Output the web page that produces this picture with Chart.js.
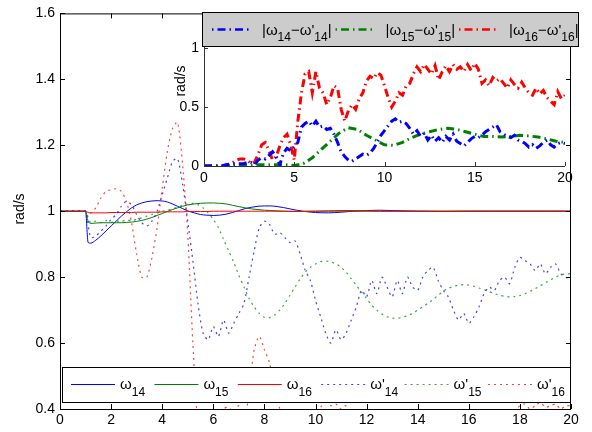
<!DOCTYPE html>
<html>
<head>
<meta charset="utf-8">
<script src="https://cdn.jsdelivr.net/npm/chart.js@4.4.1/dist/chart.umd.min.js"></script>
<style>
    body { margin: 0; background: #fff; }
    #wrap { position: relative; width: 592px; height: 432px; background: #fff; }
    #main { position: absolute; left: 0; top: 0; }
    #inset { position: absolute; left: 160px; top: 0; }
</style>
</head>
<body>
<div id="wrap">
    <canvas id="main" width="592" height="432"></canvas>
    <canvas id="inset" width="425" height="195"></canvas>
</div>
<script>
// --- data ---
const tSolid = [0,1,1.1,1.2,1.4,1.6,1.8,2,2.2,2.4,2.6,2.8,3,3.2,3.4,3.6,3.8,4,4.2,4.4,4.6,4.8,5,
    5.25,5.5,5.75,6,6.25,6.5,6.75,7,7.25,7.5,7.75,8,8.25,8.5,8.75,9,9.5,10,10.5,11,11.5,12,12.5,13,
    14,15,16,17,18,19,20];

const w14 = [1,1,0.905,0.903,0.912,0.925,0.94,0.955,0.97,0.985,0.998,1.01,1.019,1.025,1.029,1.031,1.032,
    1.031,1.028,1.022,1.015,1.008,1.001,
    0.995,0.99,0.988,0.987,0.988,0.991,0.996,1.002,1.008,1.012,1.015,1.016,1.016,1.014,1.011,1.007,
    1.0,0.996,0.995,0.997,1.0,1.002,1.003,1.002,
    1.0,0.999,1.0,1.0,1.0,1.0,1.0];
const w15 = [1,1,0.97,0.963,0.964,0.965,0.965,0.965,0.965,0.965,0.966,0.967,0.969,0.972,0.976,0.981,0.987,
    0.993,0.999,1.005,1.01,1.015,1.019,
    1.022,1.024,1.025,1.025,1.024,1.022,1.018,1.014,1.01,1.007,1.005,1.003,1.002,1.001,1.0,0.999,
    0.999,1.0,1.001,1.002,1.002,1.001,1.0,1.0,
    1.0,1.0,1.0,1.0,1.0,1.0,1.0];
const w16 = [1,1,0.996,0.995,0.995,0.995,0.995,0.996,0.996,0.996,0.996,0.996,0.997,0.997,0.997,0.997,0.997,
    0.998,0.998,0.998,0.998,0.998,0.999,
    0.999,0.999,0.999,1,1,1,1,1,1,1,1,1,1,1,1,1,
    1,1,1,1,1,1,1,1,
    1,1,1,1,1,1,1];

const tDot = [0,0.2,0.4,0.6,0.8,1,1.2,1.4,1.6,1.8,2,2.2,2.4,2.6,2.8,3,3.2,3.4,3.6,3.8,
    4,4.2,4.4,4.6,4.8,5,5.2,5.4,5.6,5.8,6,6.2,6.4,6.6,6.8,7,7.2,7.4,7.6,7.8,
    8,8.2,8.4,8.6,8.8,9,9.2,9.4,9.6,9.8,10,10.2,10.4,10.6,10.8,11,11.2,11.4,11.6,11.8,
    12,12.2,12.4,12.6,12.8,13,13.2,13.4,13.6,13.8,14,14.2,14.4,14.6,14.8,15,15.2,15.4,15.6,15.8,
    16,16.2,16.4,16.6,16.8,17,17.2,17.4,17.6,17.8,18,18.2,18.4,18.6,18.8,19,19.2,19.4,19.6,19.8,20];

// ω' (dotted)
const w14p = [1,1,1,1,1,1,0.92,0.925,0.94,0.955,
    0.975,0.99,1.015,1.03,1.02,0.99,0.965,0.955,0.97,1.0,
    1.05,1.10,1.15,1.16,1.08,0.97,0.85,0.72,0.63,0.61,
    0.65,0.62,0.67,0.63,0.66,0.69,0.72,0.80,0.88,0.95,
    0.97,0.96,0.93,0.935,0.92,0.905,0.91,0.87,0.82,0.79,
    0.73,0.68,0.63,0.60,0.64,0.61,0.63,0.67,0.71,0.76,
    0.74,0.79,0.75,0.80,0.77,0.74,0.79,0.75,0.80,0.77,
    0.76,0.80,0.82,0.83,0.79,0.76,0.74,0.70,0.67,0.69,
    0.66,0.68,0.71,0.75,0.77,0.76,0.79,0.80,0.78,0.83,
    0.86,0.85,0.84,0.82,0.84,0.81,0.83,0.84,0.81,0.80,
    0.79];
const w15p = [1,1,1,1,1,1,0.965,0.97,0.965,0.972,
    0.966,0.97,0.968,0.974,0.97,0.976,0.98,0.985,0.99,0.995,
    1.0,1.003,1.008,1.012,1.018,1.022,1.024,1.02,1.01,0.995,
    0.975,0.95,0.915,0.88,0.845,0.805,0.77,0.735,0.71,0.69,
    0.678,0.677,0.685,0.70,0.72,0.745,0.77,0.795,0.815,0.83,
    0.84,0.847,0.849,0.846,0.84,0.83,0.815,0.795,0.775,0.755,
    0.735,0.715,0.70,0.688,0.68,0.676,0.675,0.678,0.683,0.69,
    0.70,0.71,0.72,0.732,0.745,0.757,0.766,0.772,0.776,0.777,
    0.776,0.772,0.767,0.762,0.756,0.75,0.745,0.742,0.74,0.741,
    0.744,0.75,0.757,0.765,0.774,0.783,0.792,0.80,0.807,0.81,
    0.81];
const w16p = [1,1,1,1,1,1,0.995,1.01,1.04,1.06,
    1.065,1.068,1.06,1.03,0.965,0.87,0.80,0.80,0.86,0.95,
    1.07,1.18,1.25,1.27,1.14,0.93,0.60,0.35,0.28,0.26,
    0.30,0.36,0.40,0.405,0.39,0.41,0.36,0.45,0.58,0.62,
    0.58,0.54,0.46,0.40,0.33,0.26,0.22,0.20,0.22,0.28,
    0.35,0.405,0.42,0.41,0.415,0.40,0.41,0.36,0.28,0.22,
    0.18,0.15,0.17,0.14,0.16,0.13,0.15,0.14,0.16,0.15,
    0.14,0.16,0.13,0.15,0.14,0.12,0.15,0.22,0.26,0.24,
    0.25,0.27,0.24,0.26,0.29,0.30,0.27,0.32,0.36,0.39,
    0.41,0.415,0.40,0.41,0.42,0.405,0.41,0.415,0.40,0.41,
    0.41];

// inset: |ω - ω'|
const d14 = [0,0,0,0,0,0,0.01,0.015,0.02,0.02,
    0.02,0.02,0.03,0.03,0.01,0.05,0.07,0.06,0.09,0.12,
    0.08,0.01,0.11,0.15,0.13,0.16,0.20,0.33,0.36,0.38,
    0.34,0.38,0.33,0.34,0.31,0.32,0.27,0.20,0.12,0.08,
    0.05,0.04,0.06,0.08,0.10,0.09,0.11,0.15,0.20,0.26,
    0.30,0.34,0.38,0.40,0.37,0.38,0.36,0.32,0.27,0.30,
    0.25,0.28,0.22,0.26,0.21,0.24,0.20,0.25,0.22,0.27,
    0.21,0.19,0.17,0.20,0.23,0.25,0.24,0.26,0.29,0.31,
    0.33,0.35,0.29,0.27,0.25,0.24,0.26,0.22,0.21,0.19,
    0.16,0.18,0.15,0.17,0.20,0.22,0.18,0.16,0.19,0.20,
    0.19];
const d16 = [0,0,0,0,0,0,0.005,0.01,0.03,0.05,
    0.06,0.06,0.05,0.02,0.03,0.10,0.18,0.20,0.13,0.05,
    0.08,0.17,0.24,0.27,0.18,0.05,0.38,0.62,0.78,0.80,
    0.62,0.80,0.66,0.62,0.52,0.58,0.68,0.66,0.48,0.38,
    0.47,0.52,0.48,0.57,0.62,0.72,0.76,0.74,0.79,0.77,
    0.68,0.58,0.50,0.55,0.62,0.60,0.68,0.70,0.78,0.84,
    0.80,0.86,0.82,0.78,0.85,0.73,0.80,0.85,0.80,0.86,
    0.82,0.84,0.80,0.86,0.81,0.87,0.82,0.70,0.73,0.68,
    0.75,0.72,0.74,0.70,0.66,0.73,0.69,0.66,0.71,0.66,
    0.62,0.60,0.66,0.61,0.64,0.58,0.55,0.52,0.63,0.57,
    0.60];
const tHalf = [0,0.5,1,1.5,2,2.5,3,3.5,4,4.5,5,5.5,6,6.5,7,7.5,8,8.5,9,9.5,
    10,10.5,11,11.5,12,12.5,13,13.5,14,14.5,15,15.5,16,16.5,17,17.5,18,18.5,19,19.5,20];
const d15 = [0,0,0,0.005,0.005,0.005,0.01,0.01,0.01,0.01,
    0.005,0.02,0.07,0.14,0.21,0.28,0.325,0.31,0.26,0.22,
    0.18,0.175,0.2,0.24,0.27,0.29,0.31,0.32,0.31,0.29,
    0.27,0.25,0.25,0.245,0.25,0.26,0.255,0.245,0.23,0.21,
    0.2];

// tick labels
const xTicksMain = [0,2,4,6,8,10,12,14,16,18,20];
const yTicksMain = [0.4,0.6,0.8,1.0,1.2,1.4,1.6];
const xTicksInset = [0,5,10,15,20];
const yTicksInset = [0,0.5,1];

// --- helpers ---
const FONT = '"Liberation Sans", Arial, Helvetica, sans-serif';
Chart.defaults.font.family = FONT;
Chart.defaults.font.size = 14;
Chart.defaults.color = '#000';

const BLUE = '#0000ff', GREEN = '#008000', RED = '#ff0000';
const DOT = [2, 4];
const DASHDOT = [8, 4, 1.5, 4];

function pts(xs, ys) {
    return xs.map((x, i) => ({ x: x, y: ys[i] }));
}

// text with subscripts, MATLAB tex-style: parts = [[text, isSub], ...]
function drawTex(ctx, parts, x, y, big, small, drop) {
    ctx.textAlign = 'left';
    ctx.textBaseline = 'alphabetic';
    parts.forEach(p => {
        ctx.font = (p[1] ? small : big) + 'px ' + FONT;
        ctx.fillText(p[0], x, p[1] ? y + drop : y);
        x += ctx.measureText(p[0]).width;
    });
}

function sampleLine(ctx, x0, x1, y, color, width, dash, offset) {
    ctx.save();
    ctx.strokeStyle = color;
    ctx.lineWidth = width;
    ctx.setLineDash(dash);
    ctx.lineDashOffset = offset || 0;
    ctx.beginPath();
    ctx.moveTo(x0, y);
    ctx.lineTo(x1, y);
    ctx.stroke();
    ctx.restore();
}

function vTitle(ctx, text, cx, cy) {
    ctx.save();
    ctx.translate(cx, cy);
    ctx.rotate(-Math.PI / 2);
    ctx.font = '14px ' + FONT;
    ctx.fillStyle = '#000';
    ctx.textAlign = 'center';
    ctx.textBaseline = 'middle';
    ctx.fillText(text, 0, 0);
    ctx.restore();
}

const solid = (data, color, order) => ({
    data: pts(tSolid, data), borderColor: color, borderWidth: 1, pointRadius: 0,
    cubicInterpolationMode: 'monotone', order: order
});
const dotted = (data, color, order) => ({
    data: pts(tDot, data), borderColor: color, borderWidth: 1.2, borderDash: DOT,
    pointRadius: 0, tension: 0.25, order: order
});

// --- main chart frame, inward ticks, legend ---
const mainLegend = [
    { parts: [['ω', 0], ['14', 1]], color: BLUE, dash: [] },
    { parts: [['ω', 0], ['15', 1]], color: GREEN, dash: [] },
    { parts: [['ω', 0], ['16', 1]], color: RED, dash: [] },
    { parts: [["ω'", 0], ['14', 1]], color: 'rgba(0,0,255,0.75)', dash: DOT },
    { parts: [["ω'", 0], ['15', 1]], color: 'rgba(0,128,0,0.75)', dash: DOT },
    { parts: [["ω'", 0], ['16', 1]], color: 'rgba(255,0,0,0.75)', dash: DOT }
];

const mainFrame = {
    id: 'mainFrame',
    afterDraw(chart) {
        const { ctx, chartArea: a, scales: { x, y } } = chart;
        ctx.save();
        ctx.strokeStyle = '#000';
        ctx.lineWidth = 1;
        ctx.beginPath();
        xTicksMain.forEach(v => {
            const px = Math.round(x.getPixelForValue(v)) + 0.5;
            ctx.moveTo(px, a.bottom); ctx.lineTo(px, a.bottom - 5);
            ctx.moveTo(px, a.top); ctx.lineTo(px, a.top + 5);
        });
        yTicksMain.forEach(v => {
            const py = Math.round(y.getPixelForValue(v)) + 0.5;
            ctx.moveTo(a.left, py); ctx.lineTo(a.left + 5, py);
            ctx.moveTo(a.right, py); ctx.lineTo(a.right - 5, py);
        });
        ctx.stroke();
        ctx.strokeRect(a.left + 0.5, a.top + 0.5, a.right - a.left - 1, a.bottom - a.top);

        // legend box at the bottom of the axes
        ctx.fillStyle = '#fff';
        ctx.fillRect(62.5, 367.5, 508, 35);
        ctx.strokeRect(62.5, 367.5, 508, 35);
        mainLegend.forEach((item, i) => {
            const x0 = 71 + i * 83.4;
            sampleLine(ctx, x0, x0 + 44, 384.5, item.color, item.dash.length ? 1.2 : 1, item.dash);
            ctx.fillStyle = '#000';
            drawTex(ctx, item.parts, x0 + 49, 389, 15, 12, 7);
        });

        vTitle(ctx, 'rad/s', 20, 209);
        ctx.restore();
    }
};

new Chart(document.getElementById('main'), {
    type: 'line',
    data: {
        datasets: [
            solid(w14, BLUE, 6),
            solid(w15, GREEN, 5),
            solid(w16, RED, 4),
            dotted(w14p, 'rgba(0,0,255,0.75)', 3),
            dotted(w15p, 'rgba(0,128,0,0.75)', 2),
            dotted(w16p, 'rgba(255,0,0,0.75)', 1)
        ]
    },
    options: {
        responsive: false,
        animation: false,
        layout: { padding: { left: 0, top: 10, right: 21, bottom: 0 } },
        plugins: { legend: { display: false }, tooltip: { enabled: false } },
        scales: {
            x: {
                type: 'linear', min: 0, max: 20,
                afterBuildTicks: s => { s.ticks = xTicksMain.map(v => ({ value: v })); },
                afterFit: s => { s.height = 23; },
                grid: { display: false, drawTicks: false },
                border: { display: false },
                ticks: { padding: 3, maxRotation: 0, autoSkip: false, callback: v => String(v) }
            },
            y: {
                type: 'linear', min: 0.4, max: 1.6,
                afterBuildTicks: s => { s.ticks = yTicksMain.map(v => ({ value: v })); },
                afterFit: s => { s.width = 60; },
                grid: { display: false, drawTicks: false },
                border: { display: false },
                ticks: { padding: 5, autoSkip: false, callback: v => String(+v.toFixed(1)) }
            }
        }
    },
    plugins: [mainFrame]
});

// --- inset chart ---
const insetLegend = [
    { parts: [['|ω', 0], ['14', 1], ["−ω'", 0], ['14', 1], ['|', 0]], color: BLUE },
    { parts: [['|ω', 0], ['15', 1], ["−ω'", 0], ['15', 1], ['|', 0]], color: GREEN },
    { parts: [['|ω', 0], ['16', 1], ["−ω'", 0], ['16', 1], ['|', 0]], color: RED }
];

const insetFrame = {
    id: 'insetFrame',
    beforeDraw(chart) {
        const { ctx, chartArea: a } = chart;
        ctx.save();
        ctx.fillStyle = '#fff';
        ctx.fillRect(a.left, a.top, a.right - a.left, a.bottom - a.top);
        ctx.restore();
    },
    afterDraw(chart) {
        const { ctx, chartArea: a, scales: { x, y } } = chart;
        ctx.save();
        ctx.strokeStyle = '#333';
        ctx.lineWidth = 1;
        ctx.beginPath();
        ctx.moveTo(a.left + 0.5, a.top);
        ctx.lineTo(a.left + 0.5, a.bottom + 0.5);
        ctx.lineTo(a.right, a.bottom + 0.5);
        xTicksInset.forEach(v => {
            const px = Math.round(x.getPixelForValue(v)) + 0.5;
            ctx.moveTo(px, a.bottom); ctx.lineTo(px, a.bottom - 4);
        });
        yTicksInset.forEach(v => {
            const py = Math.round(y.getPixelForValue(v)) + 0.5;
            ctx.moveTo(a.left, py); ctx.lineTo(a.left + 4, py);
        });
        ctx.stroke();

        // grey legend box on top
        ctx.fillStyle = '#cccccc';
        ctx.fillRect(42.5, 12.5, 376, 34);
        ctx.strokeStyle = '#000';
        ctx.strokeRect(42.5, 12.5, 376, 34);
        insetLegend.forEach((item, i) => {
            const x0 = 50 + i * 123.5;
            sampleLine(ctx, x0, x0 + 40, 29.5, item.color, 2.5, DASHDOT, 10);
            ctx.fillStyle = '#000';
            drawTex(ctx, item.parts, x0 + 52, 35, 15, 12, 6);
        });

        vTitle(ctx, 'rad/s', 21, 81);
        ctx.restore();
    }
};

const thick = (xs, data, color) => ({
    data: pts(xs, data), borderColor: color, borderWidth: 3, borderDash: DASHDOT,
    pointRadius: 0, tension: 0
});

new Chart(document.getElementById('inset'), {
    type: 'line',
    data: {
        datasets: [
            thick(tDot, d14, BLUE),
            thick(tHalf, d15, GREEN),
            thick(tDot, d16, RED)
        ]
    },
    options: {
        responsive: false,
        animation: false,
        layout: { padding: { left: 0, top: 24.4, right: 20, bottom: 0 } },
        plugins: { legend: { display: false }, tooltip: { enabled: false } },
        scales: {
            x: {
                type: 'linear', min: 0, max: 20,
                afterBuildTicks: s => { s.ticks = xTicksInset.map(v => ({ value: v })); },
                afterFit: s => { s.height = 29; },
                grid: { display: false, drawTicks: false },
                border: { display: false },
                ticks: { padding: 4, maxRotation: 0, autoSkip: false, callback: v => String(v) }
            },
            y: {
                type: 'linear', min: 0, max: 1.2,
                afterBuildTicks: s => { s.ticks = yTicksInset.map(v => ({ value: v })); },
                afterFit: s => { s.width = 44; },
                grid: { display: false, drawTicks: false },
                border: { display: false },
                ticks: { padding: 5, autoSkip: false, callback: v => String(+v.toFixed(1)) }
            }
        }
    },
    plugins: [insetFrame]
});
</script>
</body>
</html>
